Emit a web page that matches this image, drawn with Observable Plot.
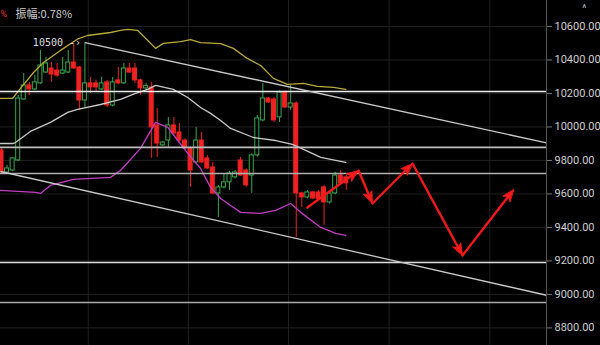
<!DOCTYPE html>
<html><head><meta charset="utf-8">
<script src="https://cdn.jsdelivr.net/npm/d3@7"></script>
<script src="https://cdn.jsdelivr.net/npm/@observablehq/plot@0.6"></script>
<style>html,body{margin:0;padding:0;background:#000;overflow:hidden}</style>
</head><body><div id="chart"></div>
<script>
// ---- data ----
const opens  = [9860,9728,9740,9800,10164,10248,10224,10260,10325,10349,10337,10319,10325,10385,10355,10158,10260,10260,10224,10266,10128,10278,10260,10349,10349,10278,10230,10236,10009,9890,9919,10009,9967,9919,9872,9788,9919,9812,9758,9603,9639,9669,9699,9800,9740,9710,9830,10039,10170,10164,10057,10206,10116,10140,9603,9579,9609,9609,9639,9549,9603,9710,9699];
const closes = [9728,9752,9812,10170,10248,10224,10266,10367,10379,10313,10307,10337,10385,10349,10158,10260,10236,10236,10260,10128,10266,10260,10349,10325,10278,10230,10245,9997,9901,9907,10009,9961,9919,9872,9740,9919,9788,9752,9603,9639,9669,9722,9728,9710,9651,9830,10051,10170,10146,10039,10206,10116,10140,9603,9579,9609,9573,9570,9549,9603,9710,9663,9663];
const highs  = [9870,9770,9818,10188,10319,10266,10307,10457,10415,10385,10379,10415,10457,10498,10361,10504,10296,10278,10296,10278,10296,10355,10379,10379,10379,10285,10260,10266,10110,9913,10057,10057,10021,9930,9880,9997,9967,9830,9788,9650,9722,9735,9740,9818,9750,9840,10069,10260,10176,10176,10215,10215,10248,10150,9610,9620,9615,9620,9650,9610,9730,9740,9710];
const lows   = [9716,9716,9734,9794,10158,10188,10218,10254,10320,10266,10296,10313,10319,10343,10099,10110,10200,10206,10218,10116,10120,10250,10254,10319,10260,10188,10220,9812,9818,9884,9872,9950,9910,9860,9639,9780,9780,9745,9595,9460,9630,9621,9690,9705,9640,9603,9820,10030,10140,10027,10027,10110,10099,9340,9519,9570,9565,9560,9412,9540,9595,9655,9621];

// Bollinger bands: [bar index, price]
const upperBand = [[-0.18,10170],[1.98,10170],[3.42,10230],[5.76,10325],[7.55,10385],[10.6,10457],[13.85,10528],[15.47,10546],[19.6,10564],[21.4,10576],[22.7,10582],[24.5,10576],[26.3,10516],[27.7,10469],[29.1,10499],[32.2,10510],[34.0,10522],[35.8,10504],[39.4,10498],[41.7,10469],[44.2,10409],[46.6,10367],[48.9,10290],[51.4,10254],[54.3,10260],[56.8,10242],[59.7,10236],[61.9,10224]];
const midBand = [[-0.18,9901],[1.98,9901],[2.5,9907],[5.2,9973],[8.8,10027],[11.9,10087],[13.7,10105],[17.8,10134],[21.4,10164],[24.1,10200],[26.3,10224],[27.7,10248],[30.9,10224],[33.5,10176],[35.8,10116],[37.6,10081],[39.4,10039],[41.2,9991],[45.3,9937],[49.3,9919],[52.3,9896],[54.7,9860],[57.4,9818],[61.9,9788]];
const lowerBand = [[-0.18,9621],[6.1,9609],[7.0,9603],[8.8,9651],[12.9,9687],[19.6,9699],[21.4,9740],[25.0,9872],[27.7,10027],[29.9,9997],[31.7,9919],[33.5,9842],[35.8,9752],[37.6,9639],[39.4,9573],[41.2,9531],[43.0,9490],[46.6,9484],[49.3,9502],[52.0,9543],[53.8,9490],[57.4,9400],[60.1,9364],[61.9,9352]];

// horizontal support / resistance levels
const levels = [10212, 9878, 9722, 9191, 8952];
// descending channel
const channelX1 = [15, -0.18];
const channelY1 = [10504, 9734];
const channelX2 = [98, 98];
const channelY2 = [9905, 8995];
// projected zigzag (bar index, price)
const pathX = [55.0, 64.2, 66.7, 73.9, 82.9, 92.1];
const pathY = [9519, 9740, 9543, 9782, 9233, 9627];

const yTicks = [8800, 9000, 9200, 9400, 9600, 9800, 10000, 10200, 10400, 10600];
const timeGrid = [15.6, 33.6, 51.6, 69.7, 87.8];
const highLabel = "10500 -›";
const headerLabel = "振幅:0.78%";

// ---- build ----
const W = 600, H = 345, MR = 54;
const xDomain = [-0.18, 98], yDomain = [8695, 10755];
const sx = Plot.scale({x: {domain: xDomain, range: [0, W - MR]}});
const sy = Plot.scale({y: {domain: yDomain, range: [H, 0]}});

const candles = opens.map((o, i) => ({i, open: o, close: closes[i], high: highs[i], low: lows[i]}));
const GREEN = "#3aa84e", RED = "#ee2222";
const col = d => d.close >= d.open ? GREEN : RED;
const channel = channelX1.map((x, k) => ({x1: x, y1: channelY1[k], x2: channelX2[k], y2: channelY2[k]}));
const segs = pathX.slice(1).map((x, k) => {
  const x1 = pathX[k], y1 = pathY[k], y2 = pathY[k + 1];
  const dx = sx.apply(x) - sx.apply(x1), dy = sy.apply(y2) - sy.apply(y1);
  return {x1, y1, x2: x, y2, angle: Math.atan2(dx, -dy) * 180 / Math.PI};
});
const levelStroke = ["#eeeeee", "#bdbdbd", "#b0b0b0", "#dddddd", "#aaaaaa"];
const lv = levels.map((v, k) => ({v, k}));
const headShape = {draw(ctx, l, r) { ctx.moveTo(0, -l); ctx.lineTo(-r, 0); ctx.lineTo(0, -l * 0.25); ctx.lineTo(r, 0); ctx.closePath(); }};

const chart = Plot.plot({
  width: W, height: H,
  marginLeft: 0, marginRight: MR, marginTop: 0, marginBottom: 0,
  x: {domain: xDomain, axis: null},
  y: {domain: yDomain, axis: null},
  color: {type: "identity"},
  style: {background: "#000", color: "#ccc", fontFamily: "Roboto, sans-serif", fontSize: "11px"},
  marks: [
    Plot.ruleY(yTicks, {stroke: "#202020"}),
    Plot.ruleX(timeGrid, {stroke: "#202020"}),
    Plot.ruleX(candles, {x: "i", y1: "low", y2: "high", stroke: col, strokeWidth: 1}),
    Plot.rect(candles, {x1: d => d.i - 0.36, x2: d => d.i + 0.36, y1: "open", y2: "close",
      fill: d => d.close >= d.open ? "#000" : RED, stroke: col, strokeWidth: 1}),
    Plot.line(upperBand, {x: d => d[0], y: d => d[1], stroke: "#b9a93a", strokeWidth: 1.3}),
    Plot.line(midBand, {x: d => d[0], y: d => d[1], stroke: "#c8c8c8", strokeWidth: 1.3}),
    Plot.line(lowerBand, {x: d => d[0], y: d => d[1], stroke: "#c23ec2", strokeWidth: 1.3}),
    Plot.ruleY(lv, {y: "v", stroke: d => levelStroke[d.k], strokeWidth: 1.6}),
    Plot.link(channel, {x1: "x1", y1: "y1", x2: "x2", y2: "y2", stroke: "#c8c8c8", strokeWidth: 1.3}),
    Plot.arrow(segs, {x1: "x1", y1: "y1", x2: "x2", y2: "y2", stroke: "#f21a1a", strokeWidth: 2.4, headLength: 0, insetEnd: 5}),
    Plot.vector(segs, {x: "x2", y: "y2", rotate: "angle", length: 12, r: 4.5, anchor: "end", shape: headShape, fill: "#f21a1a", stroke: "#f21a1a", strokeWidth: 0.8}),
    Plot.ruleX([98], {stroke: "#555"}),
    Plot.axisY({anchor: "right", ticks: yTicks, tickFormat: d => d.toFixed(2), tickSize: 5, tickPadding: 3, stroke: "#777", fill: "#cfcfcf", fontSize: 11}),
    Plot.text([highLabel], {x: 14.3, y: 10504, text: d => d, textAnchor: "end", fill: "#dddddd", fontSize: 10, fontFamily: "DejaVu Sans Mono, monospace"}),
    Plot.text([headerLabel], {frameAnchor: "top-left", dx: 15, dy: 10, text: d => d, textAnchor: "start", fill: "#cccccc", fontSize: 11, fontFamily: "Noto Sans CJK SC, sans-serif"}),
    Plot.text(["%"], {frameAnchor: "top-left", dx: 0, dy: 10, text: d => d, textAnchor: "start", fill: "#e03030", fontSize: 9}),
    Plot.text(["^"], {frameAnchor: "top-right", dx: 40, dy: 4, text: d => d, fill: "#bbbbbb", fontSize: 10})
  ]
});
document.getElementById("chart").appendChild(chart);
</script>
</body></html>
